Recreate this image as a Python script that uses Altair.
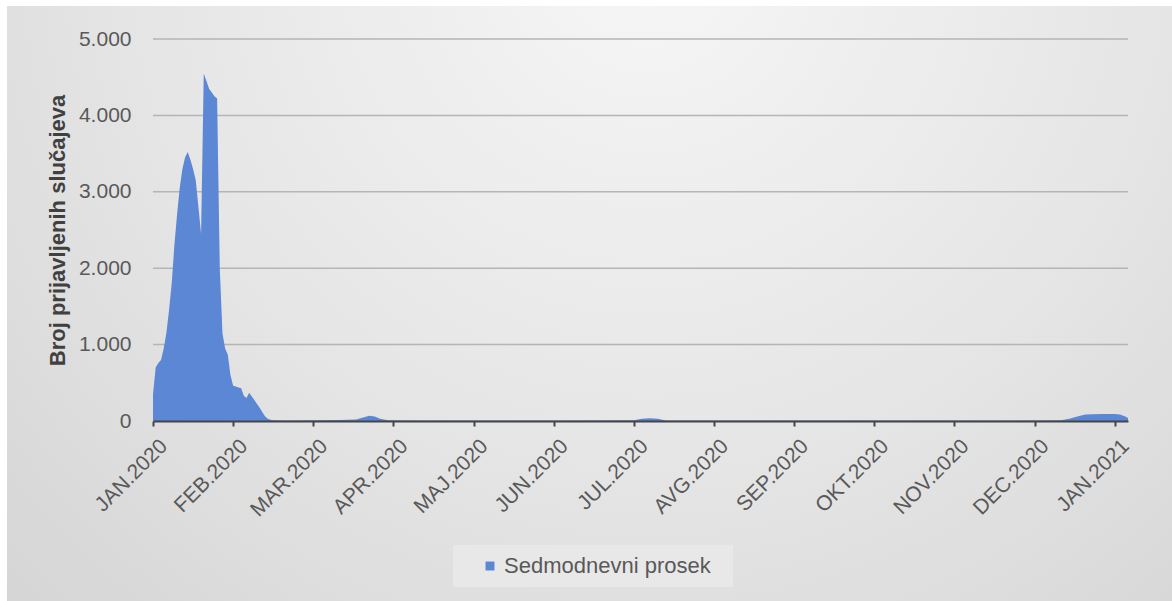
import altair as alt
import pandas as pd

# Day index from start (0 = JAN.2020), seven-day average values
days = [0, 1, 2, 3, 4, 5, 6, 7, 8, 9, 10, 11, 12, 13, 14, 15, 16, 17, 18, 19,
        20, 21, 22, 23, 24, 25, 26, 27, 28, 29, 30, 31, 32, 33, 34, 35, 36, 37,
        38, 39, 40, 41, 42, 43, 44, 45, 50, 60, 70, 76, 79, 81, 83, 85, 88,
        100, 150, 180, 183, 186, 189, 192, 220, 300, 340, 343, 346, 349, 355,
        360, 362, 364, 365]
values = [350, 700, 760, 800, 950, 1150, 1450, 1800, 2300, 2700, 3050, 3300,
          3450, 3520, 3420, 3300, 3150, 2800, 2450, 4550, 4450, 4350, 4300,
          4250, 4220, 2000, 1150, 950, 870, 600, 460, 450, 440, 430, 330, 300,
          370, 320, 270, 220, 170, 110, 60, 30, 15, 10, 8, 10, 12, 20, 50, 70,
          60, 30, 10, 5, 5, 10, 30, 35, 30, 8, 5, 5, 10, 30, 60, 85, 90, 90,
          85, 60, 40]
series_name = "Sedmodnevni prosek"

month_ticks = [0, 30, 60, 90, 120, 150, 180, 210, 240, 270, 300, 330, 360]
month_labels = ["JAN.2020", "FEB.2020", "MAR.2020", "APR.2020", "MAJ.2020",
                "JUN.2020", "JUL.2020", "AVG.2020", "SEP.2020", "OKT.2020",
                "NOV.2020", "DEC.2020", "JAN.2021"]
y_ticks = [0, 1000, 2000, 3000, 4000, 5000]
grid_values = [1000, 2000, 3000, 4000, 5000]

df = pd.DataFrame({"day": days, "value": values, "series": series_name})
grid_df = pd.DataFrame({"value": grid_values})

FONT = "Liberation Sans"
GRAY = "#595959"

label_expr = "[" + ",".join("'" + m + "'" for m in month_labels) + "][round(datum.value/30)]"

y_scale = alt.Scale(domain=[0, 5000], nice=False)

bg = alt.Chart(alt.Data(values=[{}])).mark_rect(
    fill=alt.Gradient(
        gradient="radial",
        stops=[alt.GradientStop(color="#f6f6f6", offset=0),
               alt.GradientStop(color="#e6e6e6", offset=0.5),
               alt.GradientStop(color="#d2d2d2", offset=1)],
        x1=0.55, y1=0.2, r1=0, x2=0.55, y2=0.2, r2=0.85,
    )
).encode(
    x=alt.value(-146), x2=alt.value(1019), y=alt.value(-33), y2=alt.value(562)
)

legend_box = alt.Chart(alt.Data(values=[{}])).mark_rect(
    fill="#eaeaea", opacity=0.8
).encode(
    x=alt.value(300), x2=alt.value(580), y=alt.value(506), y2=alt.value(548)
)

grid = alt.Chart(grid_df).mark_rule(color="#b5b5b5", strokeWidth=1.5).encode(
    y=alt.Y("value:Q", scale=y_scale),
    x=alt.value(0), x2=alt.value(975),
)

area = alt.Chart(df).mark_area(interpolate="linear").encode(
    x=alt.X("day:Q",
            scale=alt.Scale(domain=[0, 365], nice=False, zero=False),
            axis=alt.Axis(values=month_ticks, labelExpr=label_expr, title=None,
                          grid=False, labelAngle=-45, labelAlign="right",
                          labelBaseline="top", labelPadding=9, labelOffset=3,
                          labelFont=FONT, labelFontSize=21, labelColor=GRAY,
                          domainColor="#454545", domainWidth=2,
                          tickColor="#454545", tickWidth=2, tickSize=5,
                          labelOverlap=False, labelFlush=False, zindex=1)),
    y=alt.Y("value:Q", scale=y_scale,
            axis=alt.Axis(values=y_ticks,
                          labelExpr="replace(format(datum.value, ','), ',', '.')",
                          title="Broj prijavljenih  slučajeva",
                          titleFont=FONT, titleFontSize=22, titleFontWeight="bold",
                          titleColor="#404040", titlePadding=9,
                          labelFont=FONT, labelFontSize=21, labelColor=GRAY,
                          labelPadding=22, domain=False, ticks=False,
                          grid=False, zindex=1)),
    color=alt.Color("series:N",
                    scale=alt.Scale(range=["#5B87D5"]),
                    legend=alt.Legend(title=None, orient="none",
                                      legendX=326, legendY=516, padding=0,
                                      symbolType="square", symbolSize=80,
                                      symbolStrokeWidth=0, labelLimit=400,
                                      labelFont=FONT, labelFontSize=22,
                                      labelColor=GRAY, labelOffset=3, zindex=1)),
)

chart = alt.layer(bg, legend_box, grid, area).properties(
    width=975, height=382,
    autosize=alt.AutoSizeParams(type="none"),
    padding={"left": 153, "top": 39, "right": 44, "bottom": 180},
    background="white",
).configure_view(stroke=None)

chart.save("out.html", embed_options={"renderer": "svg", "actions": False})
